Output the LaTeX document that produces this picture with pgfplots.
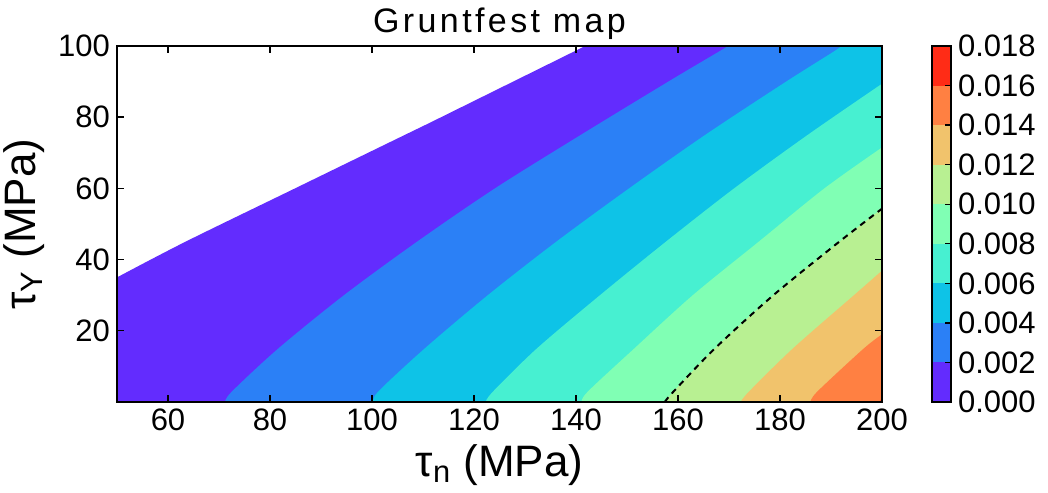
\documentclass[border=0pt]{standalone}
\usepackage{fontspec}
\setmainfont{Liberation Sans}
\newfontfamily\titlefont[LetterSpace=10]{Liberation Sans}
\usepackage{pgfplots}
\pgfplotsset{compat=1.18}
\usepgfplotslibrary{fillbetween}
\definecolor{c0}{RGB}{99,44,254}
\definecolor{c1}{RGB}{43,128,246}
\definecolor{c2}{RGB}{14,195,231}
\definecolor{c3}{RGB}{71,240,209}
\definecolor{c4}{RGB}{128,255,180}
\definecolor{c5}{RGB}{184,240,146}
\definecolor{c6}{RGB}{241,195,108}
\definecolor{c7}{RGB}{255,128,66}
\definecolor{c8}{RGB}{255,44,22}
\begin{document}
\begin{tikzpicture}[x=1pt,y=1pt]
\begin{axis}[
  at={(0,0)}, anchor=south west,
  scale only axis, width=382.5pt, height=178pt,
  xmin=50, xmax=200, ymin=0, ymax=100,
  xtick={60,80,...,200}, ytick={20,40,...,100},
  tick pos=both, tick align=inside, major tick length=3.5pt,
  axis line style={line width=1pt},
  every tick/.style={black, line width=0.7pt},
  axis on top,
  /pgf/number format/assume math mode=true,
  tick label style={font=\fontsize{15.5}{18}\selectfont},
  xlabel={τ\textsubscript{n} (MPa)},
  ylabel={τ\textsubscript{Y} (MPa)},
  label style={font=\fontsize{22}{26}\selectfont},
  after end axis/.code={
    \node[anchor=base, inner sep=0pt, yshift=6.5pt,
      font=\titlefont\fontsize{17}{20}\selectfont]
      at (rel axis cs:0.5,1) {Gruntfest map};
  },
]
% contour lines (level 0, 0.002, ..., 0.014)
\addplot[draw=none, smooth, name path=L0] coordinates {(50,35)(63.4,45)(84.9,60)(106.4,75)(128,90)(140,98.5)(141.8,100)};
\addplot[draw=none, name path=E0] coordinates {(50,35)(50,0)(200,0)(200,100)(141.8,100)};
\addplot[c0] fill between[of=L0 and E0];
\addplot[draw=none, smooth, name path=L1] coordinates {(71.2,0)(72.5,2.9)(81.6,15)(94.5,30)(108.8,45)(124.1,60)(140.9,75)(158.1,90)(168.1,98.5)(169.8,100)};
\addplot[draw=none, name path=E1] coordinates {(71.2,0)(200,0)(200,100)(169.8,100)};
\addplot[c1] fill between[of=L1 and E1];
\addplot[draw=none, smooth, name path=L2] coordinates {(100.3,0)(101.2,2.9)(110.3,15)(122.7,30)(136.1,45)(150.4,60)(165.3,75)(181.2,90)(190.6,98.5)(192,100)};
\addplot[draw=none, name path=E2] coordinates {(100.3,0)(200,0)(200,100)(192,100)};
\addplot[c2] fill between[of=L2 and E2];
\addplot[draw=none, smooth, name path=L3] coordinates {(122.3,0)(123.7,2.9)(132.3,15)(144.7,30)(157.6,45)(171,60)(185.4,75)(200,89.4)};
\addplot[draw=none, name path=E3] coordinates {(122.3,0)(200,0)(200,89.4)};
\addplot[c3] fill between[of=L3 and E3];
\addplot[draw=none, smooth, name path=L4] coordinates {(141.1,0)(142.3,2.9)(151.4,15)(162.9,30)(175.8,45)(188.7,60)(200,71.5)};
\addplot[draw=none, name path=E4] coordinates {(141.1,0)(200,0)(200,71.5)};
\addplot[c4] fill between[of=L4 and E4];
\addplot[draw=none, smooth, name path=L5] coordinates {(157.4,0)(159.1,2.9)(167.2,15)(178.7,30)(191.6,45)(200,54.3)};
\addplot[draw=none, name path=E5] coordinates {(157.4,0)(200,0)(200,54.3)};
\addplot[c5] fill between[of=L5 and E5];
\addplot[draw=none, smooth, name path=L6] coordinates {(172.3,0)(173.9,2.9)(182.5,15)(194.5,30)(200,36.9)};
\addplot[draw=none, name path=E6] coordinates {(172.3,0)(200,0)(200,36.9)};
\addplot[c6] fill between[of=L6 and E6];
\addplot[draw=none, smooth, name path=L7] coordinates {(186,0)(187.3,2.9)(196.4,15)(200,19)};
\addplot[draw=none, name path=E7] coordinates {(186,0)(200,0)(200,19)};
\addplot[c7] fill between[of=L7 and E7];
\addplot[fill=c8, draw=none] coordinates {(199.6,0)(200,1.4)(200,0)} -- cycle;
% dashed contour at 0.010
\addplot[black, smooth, line width=1pt, dash pattern=on 3pt off 2.5pt] coordinates {(157.4,0)(159.1,2.9)(167.2,15)(178.7,30)(191.6,45)(200,54.3)};
\end{axis}
\begin{axis}[
  at={(407.5pt,0)}, anchor=south west,
  scale only axis, width=9.5pt, height=178pt,
  xmin=0, xmax=1, ymin=0, ymax=0.018,
  xtick=\empty,
  ytick={0,0.002,...,0.0181},
  ytick pos=right, yticklabel pos=right,
  tick align=inside, major tick length=3pt,
  axis line style={line width=1pt},
  every tick/.style={black, line width=0.7pt},
  axis on top,
  scaled y ticks=false,
  /pgf/number format/assume math mode=true,
  yticklabel style={font=\fontsize{15.5}{18}\selectfont, /pgf/number format/.cd, fixed, fixed zerofill, precision=3},
]
\addplot[fill=c0, draw=none] coordinates {(0,0)(1,0)(1,0.002)(0,0.002)} -- cycle;
\addplot[fill=c1, draw=none] coordinates {(0,0.002)(1,0.002)(1,0.004)(0,0.004)} -- cycle;
\addplot[fill=c2, draw=none] coordinates {(0,0.004)(1,0.004)(1,0.006)(0,0.006)} -- cycle;
\addplot[fill=c3, draw=none] coordinates {(0,0.006)(1,0.006)(1,0.008)(0,0.008)} -- cycle;
\addplot[fill=c4, draw=none] coordinates {(0,0.008)(1,0.008)(1,0.010)(0,0.010)} -- cycle;
\addplot[fill=c5, draw=none] coordinates {(0,0.010)(1,0.010)(1,0.012)(0,0.012)} -- cycle;
\addplot[fill=c6, draw=none] coordinates {(0,0.012)(1,0.012)(1,0.014)(0,0.014)} -- cycle;
\addplot[fill=c7, draw=none] coordinates {(0,0.014)(1,0.014)(1,0.016)(0,0.016)} -- cycle;
\addplot[fill=c8, draw=none] coordinates {(0,0.016)(1,0.016)(1,0.018)(0,0.018)} -- cycle;
\end{axis}
\pgfresetboundingbox
\useasboundingbox (-58.5,-45) rectangle (465.5,201);
\end{tikzpicture}
\end{document}
